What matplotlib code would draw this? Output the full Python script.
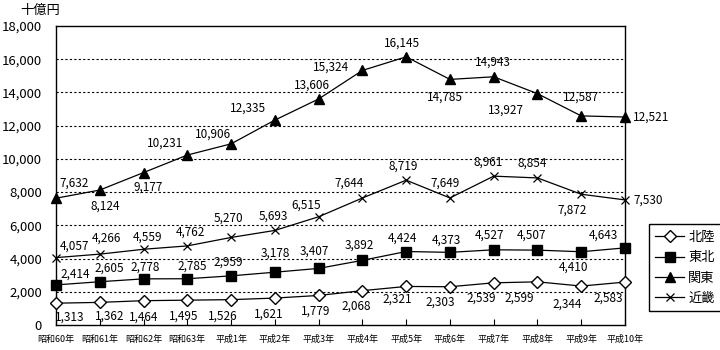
import matplotlib.pyplot as plt
import numpy as np

plt.rcParams['font.family'] = ['Noto Sans CJK JP', 'DejaVu Sans']

# data (unit: 十億円)
years = ['昭和60年', '昭和61年', '昭和62年', '昭和63年', '平成1年', '平成2年', '平成3年',
         '平成4年', '平成5年', '平成6年', '平成7年', '平成8年', '平成9年', '平成10年']
hokuriku = [1313, 1362, 1464, 1495, 1526, 1621, 1779, 2068, 2321, 2303, 2539, 2599, 2344, 2583]
tohoku = [2414, 2605, 2778, 2785, 2959, 3178, 3407, 3892, 4424, 4373, 4527, 4507, 4410, 4643]
kanto = [7632, 8124, 9177, 10231, 10906, 12335, 13606, 15324, 16145, 14785, 14943, 13927, 12587, 12521]
kinki = [4057, 4266, 4559, 4762, 5270, 5693, 6515, 7644, 8719, 7649, 8961, 8854, 7872, 7530]

# label offsets in pixels (dx, dy) for each point
off_hokuriku = [(14, -14), (10, -14), (0, -16), (-4, -16), (-8, -16), (-6, -16), (-3, -16),
                (-6, -15), (-9, -13), (-10, -15), (-12, -15), (-18, -16), (-14, -18), (-17, -16)]
off_tohoku = [(19, 11), (10, 14), (2, 12), (5, 13), (-3, 14), (0, 19), (-4, 17),
              (-3, 15), (-4, 13), (-4, 12), (-4, 15), (-6, 15), (-8, -15), (-22, 13)]
off_kanto = [(18, 15), (5, -16), (5, -15), (-22, 12), (-18, 10), (-27, 12), (-7, 14),
             (-31, 3), (-4, 14), (-5, -18), (-1, 15), (-32, -16), (0, 19), (8, 0)]
off_kinki = [(19, 11), (7, 16), (4, 12), (3, 14), (-3, 19), (-2, 14), (-12, 12),
             (-13, 15), (-3, 14), (-5, 15), (-6, 14), (-5, 15), (-9, -16), (8, 0)]

x = np.arange(len(years))
px = 0.72  # pixel -> point at dpi 100

fig = plt.figure(figsize=(7.2, 3.5), dpi=100)
ax = fig.add_axes([56 / 720, 25 / 350, 569 / 720, 299 / 350])

series = [
    ('北陸', hokuriku, off_hokuriku, dict(marker='D', markersize=6, markerfacecolor='white')),
    ('東北', tohoku, off_tohoku, dict(marker='s', markersize=7, markerfacecolor='black')),
    ('関東', kanto, off_kanto, dict(marker='^', markersize=7, markerfacecolor='black')),
    ('近畿', kinki, off_kinki, dict(marker='x', markersize=6, markeredgewidth=0.9)),
]

for name, vals, offs, style in series:
    ax.plot(x, vals, color='black', lw=0.9, markeredgecolor='black', label=name,
            clip_on=False, zorder=3, **style)
    for i, v in enumerate(vals):
        dx, dy = offs[i]
        ha = 'left' if (i == len(vals) - 1 and dy == 0) else 'center'
        ax.annotate(f'{v:,}', (x[i], v), xytext=(dx * px, dy * px),
                    textcoords='offset points', ha=ha, va='center', fontsize=8.5)

ax.set_xlim(0, len(years) - 1)
ax.set_ylim(0, 18000)
ax.set_yticks(np.arange(0, 18001, 2000))
ax.set_yticklabels([f'{t:,}' for t in range(0, 18001, 2000)], fontsize=9.5)
ax.set_xticks(x)
ax.set_xticklabels(years, fontsize=6.5)
ax.tick_params(axis='x', direction='in', length=4, pad=7)
ax.tick_params(axis='y', length=0, pad=10)
for t in range(2000, 18000, 2000):
    ax.axhline(t, color='black', lw=0.8, linestyle=(0, (2, 2)), zorder=1)
for s in ax.spines.values():
    s.set_linewidth(1.0)

fig.text(20 / 720, 1 - 10 / 350, '十億円', fontsize=9.5, va='center')

fig.legend(loc='lower left', bbox_to_anchor=(642 / 720, 32 / 350), fontsize=9.5,
           frameon=True, fancybox=False, edgecolor='black', framealpha=1,
           handlelength=2.2, handletextpad=0.3, labelspacing=0.55, borderpad=0.5)

fig.savefig('out.png', dpi=100)
